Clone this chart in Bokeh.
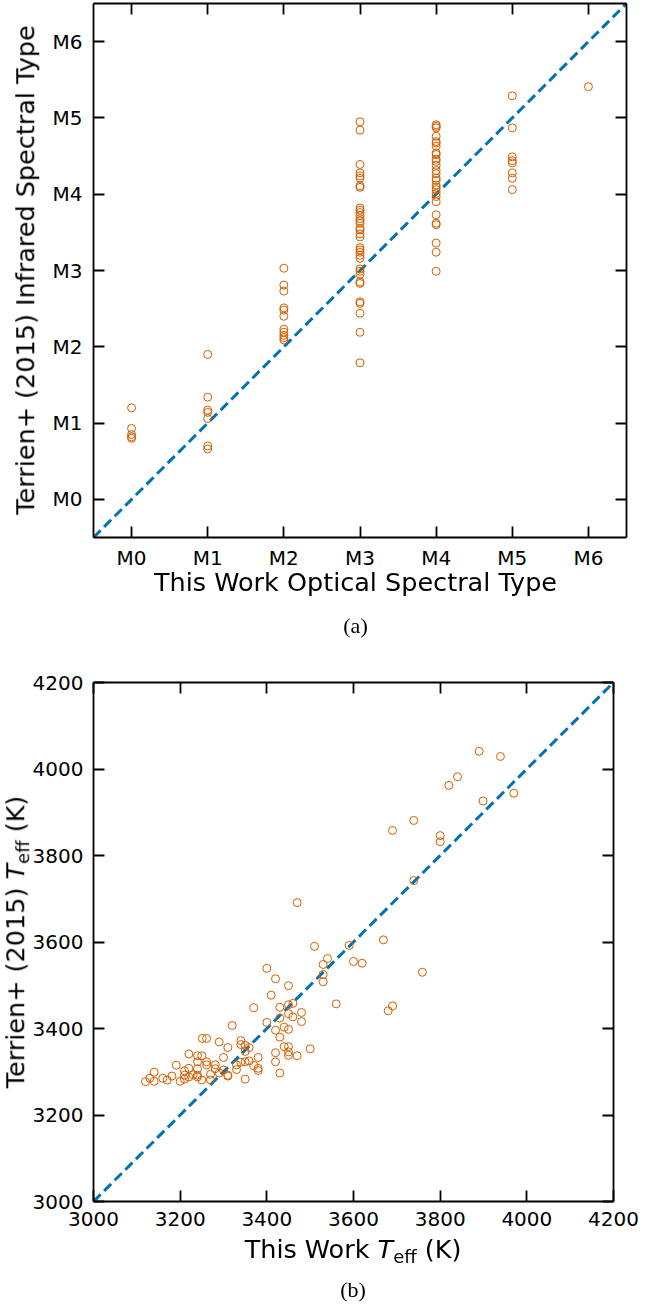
from bokeh.plotting import figure
from bokeh.models import Range1d, LinearAxis, FixedTicker, Div
from bokeh.layouts import column
from bokeh.embed import file_html
from bokeh.resources import INLINE

# ---------------- Panel (a) data: spectral types ----------------
spt_ticks = [0, 1, 2, 3, 4, 5, 6]
spt_names = ["M0", "M1", "M2", "M3", "M4", "M5", "M6"]
spt_limits = [-0.5, 6.5]

# Terrien+ (2015) infrared subtype, grouped by this work's optical subtype
ir_for_M0 = [1.20, 0.93, 0.85, 0.82, 0.80]
ir_for_M1 = [1.90, 1.34, 1.17, 1.14, 1.06, 0.70, 0.66]
ir_for_M2 = [3.03, 2.81, 2.73, 2.51, 2.48, 2.40, 2.23, 2.19, 2.15, 2.12, 2.09]
ir_for_M3 = [4.95, 4.84, 4.39, 4.28, 4.24, 4.21, 4.11, 4.09, 3.82, 3.79, 3.76,
             3.72, 3.68, 3.65, 3.62, 3.55, 3.53, 3.48, 3.44, 3.30, 3.27, 3.24,
             3.20, 3.16, 3.02, 2.99, 2.95, 2.85, 2.83, 2.59, 2.57, 2.44, 2.19, 1.79]
ir_for_M4 = [4.91, 4.89, 4.87, 4.76, 4.69, 4.67, 4.63, 4.54, 4.52, 4.46, 4.43,
             4.38, 4.31, 4.27, 4.21, 4.18, 4.12, 4.09, 4.06, 4.01, 3.97, 3.90,
             3.73, 3.62, 3.60, 3.36, 3.24, 2.99]
ir_for_M5 = [5.29, 4.87, 4.49, 4.44, 4.41, 4.28, 4.21, 4.06]
ir_for_M6 = [5.41]

# ---------------- Panel (b) data: effective temperatures ----------------
teff_limits = [3000, 4200]
teff_ticks = [3000, 3200, 3400, 3600, 3800, 4000, 4200]
teff_this = [3890, 3939, 3820, 3840, 3899, 3970, 3739, 3690, 3800, 3800,
             3739, 3470, 3669, 3590, 3510, 3540, 3530, 3600, 3620, 3759,
             3530, 3530, 3400, 3420, 3450, 3410, 3560, 3680, 3690, 3370,
             3430, 3450, 3460, 3480, 3450, 3460, 3480, 3430, 3400, 3320,
             3420, 3440, 3450, 3430, 3251, 3261, 3290, 3340, 3340, 3350,
             3310, 3359, 3440, 3450, 3500, 3350, 3450, 3420, 3220, 3240,
             3250, 3470, 3450, 3300, 3380, 3240, 3261, 3350, 3359, 3420,
             3191, 3261, 3281, 3330, 3370, 3220, 3240, 3281, 3380, 3380,
             3210, 3140, 3330, 3300, 3290, 3430, 3210, 3230, 3240, 3270,
             3310, 3181, 3220, 3240, 3160, 3130, 3170, 3200, 3250, 3270,
             3120, 3140, 3210, 3350, 3310, 3340]
teff_terrien = [4041, 4029, 3962, 3982, 3926, 3944, 3881, 3858, 3846, 3832,
                3742, 3691, 3605, 3592, 3590, 3562, 3548, 3555, 3551, 3530,
                3525, 3508, 3539, 3515, 3499, 3477, 3457, 3441, 3452, 3448,
                3449, 3455, 3458, 3437, 3434, 3427, 3416, 3424, 3414, 3407,
                3396, 3403, 3398, 3380, 3377, 3377, 3369, 3372, 3363, 3361,
                3356, 3356, 3358, 3358, 3353, 3347, 3346, 3344, 3341, 3337,
                3337, 3337, 3338, 3333, 3333, 3323, 3323, 3323, 3325, 3323,
                3315, 3316, 3316, 3316, 3314, 3308, 3307, 3307, 3308, 3303,
                3302, 3299, 3305, 3304, 3297, 3297, 3292, 3293, 3292, 3294,
                3290, 3290, 3288, 3288, 3285, 3285, 3281, 3278, 3281, 3281,
                3277, 3278, 3283, 3283, 3292, 3322]

# ---------------- styling ----------------
ORANGE = "#D55E00"
BLUE = "#0173B2"
SANS = "DejaVu Sans"
SERIF = "Liberation Serif"
TICK_PX = "20px"
TITLE_PX = 25.5
SUB_PX = 18
CAP_PX = 22

TEFF_HTML = ('<span style="font-style:italic">T</span>'
             f'<span style="font-size:{SUB_PX}px;position:relative;top:5px">eff</span>')


def make_fig(lims, fw, fh, bl, br, bt, bb):
    p = figure(x_range=Range1d(*lims), y_range=Range1d(*lims),
               frame_width=fw, frame_height=fh,
               min_border_left=bl, min_border_right=br,
               min_border_top=bt, min_border_bottom=bb,
               output_backend="svg", toolbar_location=None)
    p.grid.visible = False
    p.outline_line_color = None
    return p


def style_axis(ax, ticks, overrides, standoff):
    ax.ticker = FixedTicker(ticks=ticks)
    ax.major_label_overrides = overrides
    ax.major_tick_in = 11
    ax.major_tick_out = 0
    ax.minor_tick_in = 0
    ax.minor_tick_out = 0
    ax.axis_line_width = 1.8
    ax.axis_line_color = "black"
    ax.major_tick_line_width = 1.8
    ax.major_tick_line_color = "black"
    ax.major_label_text_font = SANS
    ax.major_label_text_font_size = TICK_PX
    ax.major_label_text_color = "black"
    ax.major_label_standoff = standoff


def add_mirror_axes(p, ticks):
    blank = {t: "" for t in ticks}
    for place in ("above", "right"):
        ax = LinearAxis()
        style_axis(ax, ticks, blank, 0)
        ax.major_label_text_font_size = "0px"
        p.add_layout(ax, place)


def text_item(html, cx, cy, size, fam, rot=False):
    tr = "translate(-50%,-50%)" + (" rotate(-90deg)" if rot else "")
    return (f'<div style="position:fixed;z-index:10;left:{cx}px;top:{cy}px;'
            f'transform:{tr};white-space:nowrap;font-family:\'{fam}\';'
            f'font-size:{size}px;line-height:1;color:black;">{html}</div>')


# ================= Panel (a) =================
FW1, FH1 = 533, 534
BL1, BR1, BT1, BB1 = 89, 40, 3, 135
p1 = make_fig(spt_limits, FW1, FH1, BL1, BR1, BT1, BB1)

opt_x, ir_y = [], []
for t, vals in zip(spt_ticks, [ir_for_M0, ir_for_M1, ir_for_M2, ir_for_M3,
                               ir_for_M4, ir_for_M5, ir_for_M6]):
    opt_x += [t] * len(vals)
    ir_y += vals

p1.line(spt_limits, spt_limits, line_color=BLUE, line_width=3, line_dash="10 5")
p1.scatter(opt_x, ir_y, marker="circle", size=8, fill_color=None,
           line_color=ORANGE, line_width=1)

names = {t: n for t, n in zip(spt_ticks, spt_names)}
style_axis(p1.xaxis[0], spt_ticks, names, 8)
style_axis(p1.yaxis[0], spt_ticks, names, 11)
add_mirror_axes(p1, spt_ticks)

H1 = BT1 + FH1 + BB1
fb1 = BT1 + FH1                      # frame bottom (page px)
cx1 = BL1 + FW1 / 2                  # frame centre x (page px)

# ================= Panel (b) =================
FW2, FH2 = 520, 519
BL2, BR2, BT2, BB2 = 93, 40, 10, 85
p2 = make_fig(teff_limits, FW2, FH2, BL2, BR2, BT2, BB2)

p2.line(teff_limits, teff_limits, line_color=BLUE, line_width=3, line_dash="10 5")
p2.scatter(teff_this, teff_terrien, marker="circle", size=8, fill_color=None,
           line_color=ORANGE, line_width=1)

style_axis(p2.xaxis[0], teff_ticks, {}, 10)
style_axis(p2.yaxis[0], teff_ticks, {}, 10)
add_mirror_axes(p2, teff_ticks)

ft2 = H1 + BT2                       # frame top (page px)
fb2 = ft2 + FH2
cx2 = BL2 + FW2 / 2

# ================= texts (page coordinates) =================
texts = "".join([
    text_item("Terrien+ (2015) Infrared Spectral Type", 26, BT1 + FH1 / 2,
              TITLE_PX, SANS, True),
    text_item("This Work Optical Spectral Type", cx1, fb1 + 46, TITLE_PX, SANS),
    text_item("(a)", cx1, fb1 + 89, CAP_PX, SERIF),
    text_item(f"Terrien+ (2015) {TEFF_HTML} (K)", 16, ft2 + FH2 / 2,
              TITLE_PX, SANS, True),
    text_item(f"This Work {TEFF_HTML} (K)", cx2, fb2 + 49, TITLE_PX, SANS),
    text_item("(b)", cx2, fb2 + 89, CAP_PX, SERIF),
])
labels_div = Div(text=texts, width=1, height=1)

layout = column(p1, p2, labels_div)
open("out.html", "w").write(file_html(layout, INLINE))
